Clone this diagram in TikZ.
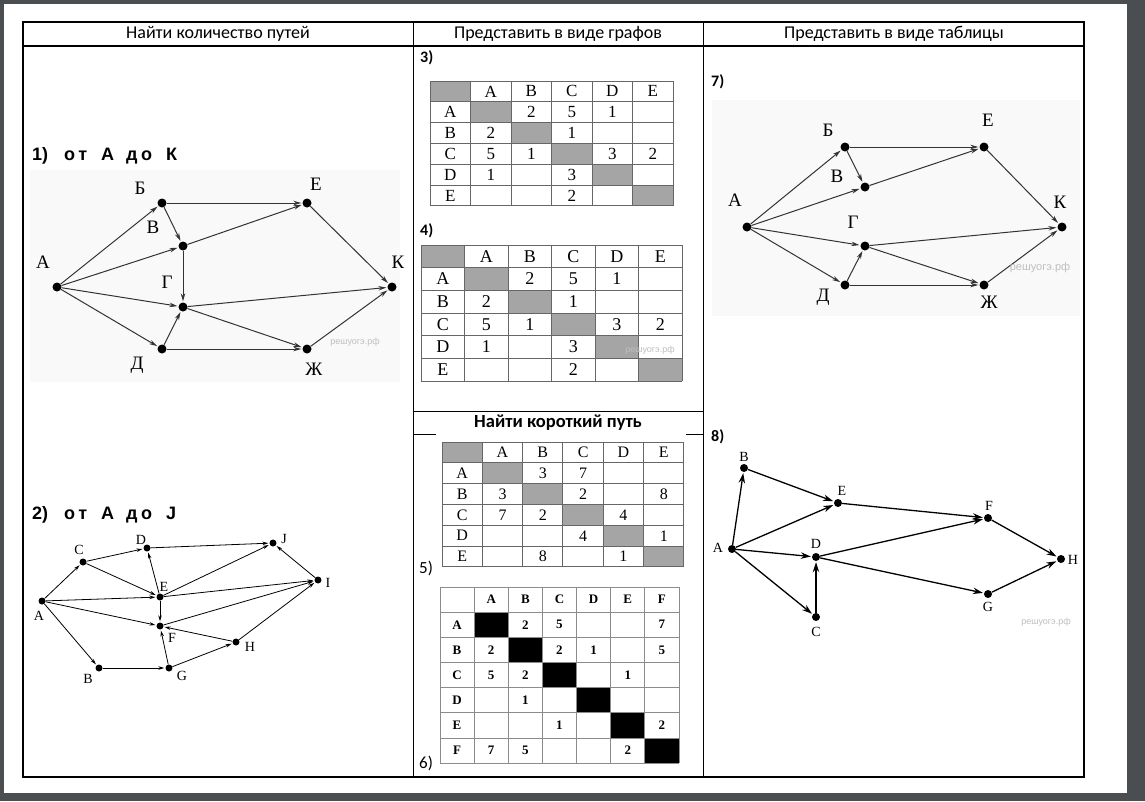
\documentclass[tikz,border=0pt]{standalone}
\usepackage{fontspec}
\setmainfont{Carlito}
\newfontfamily\tabfont{Liberation Serif}
\newfontfamily\taskfont{Liberation Sans}[LetterSpace=20]
\newfontfamily\markfont{Liberation Sans}
\usetikzlibrary{arrows.meta}
\definecolor{bgdark}{RGB}{75,78,81}
\definecolor{cellgray}{RGB}{165,165,165}

% weight table: name, x0, y0, cell width, cell height, size, letters, entries col/row/value
\newcommand{\wtable}[8]{%
  \begin{scope}[shift={(#2,#3)},x=#4pt,y=-#5pt]
    \fill[corner] (0,0) rectangle (1,1);
    \foreach \lt [count=\k] in {#7} {
      \fill[diag] (\k,\k) rectangle ++(1,1);
      \node[cell] (#1-c\k) at (\k+.5,.5) {\lt};
      \node[cell] (#1-r\k) at (.5,\k+.5) {\lt};
    }
    \foreach \k in {0,...,#6} {
      \draw[tabline] (\k,0) -- (\k,#6);
      \draw[tabline] (0,\k) -- (#6,\k);
    }
    \foreach \col/\row/\val in {#8}
      \node[cell] (#1-\col-\row) at (\col+.5,\row+.5) {\val};
  \end{scope}}

\tikzset{
  cell/.style={font=\tabfont\fontsize{17}{17}\selectfont,inner sep=0pt},
  diag/.style={fill=cellgray},
  corner/.style={fill=cellgray},
  tabline/.style={draw=black!60,line width=1pt}
}

\begin{document}
\begin{tikzpicture}[x=1pt,y=-1pt,
  vtx/.style={circle,fill=black,inner sep=0pt,minimum size=9pt},
  svtx/.style={circle,fill=black,inner sep=0pt,minimum size=7pt},
  lab/.style={font=\tabfont\fontsize{19}{19}\selectfont,inner sep=0pt},
  slab/.style={font=\tabfont\fontsize{14}{14}\selectfont,inner sep=0pt},
  garc/.style={draw=black!80,line width=1pt,-{Stealth[length=8pt,width=4.5pt]},shorten >=1pt},
  sarc/.style={draw=black,line width=.8pt,-{Stealth[length=6pt,width=3.5pt]},shorten >=1pt},
  barc/.style={draw=black,line width=1.3pt,-{Stealth[length=10pt,width=6.5pt]},shorten >=1pt},
  head/.style={font=\fontsize{18}{18}\selectfont,inner sep=0pt},
  num/.style={font=\bfseries\fontsize{16}{16}\selectfont,inner sep=0pt,anchor=west},
  task/.style={font=\taskfont\bfseries\fontsize{18}{18}\selectfont,inner sep=0pt,anchor=west},
  wmark/.style={font=\markfont\fontsize{9}{9}\selectfont,text=black!25,inner sep=0pt}]

% page
\fill[bgdark] (0,0) rectangle (1145,801);
\fill[white] (4,4) rectangle (1127,793);

% frame of the table
\draw[line width=1.3pt] (23,22) rectangle (1084,777);
\draw[line width=1.3pt] (23,46) -- (1084,46);
\draw[line width=1pt] (413,22) -- (413,777);
\draw[line width=1pt] (703,22) -- (703,777);
\draw[line width=1pt] (413,411) -- (703,411);
\draw[line width=1pt] (413,434) -- (436,434);
\draw[line width=1pt] (686,434) -- (703,434);

\node[head] (h1) at (218,34) {Найти количество путей};
\node[head] (h2) at (558,34) {Представить в виде графов};
\node[head] (h3) at (894,34) {Представить в виде таблицы};
\node[head,font=\bfseries\fontsize{18.5}{18.5}\selectfont] (h4) at (558,423) {Найти короткий путь};

% 1) graph
\node[task] (task1) at (32,156) {{\markfont 1)}\hspace{16pt}от\hspace{14pt}А\hspace{12pt}до\hspace{14pt}К};
\fill[gray!5] (30,170) rectangle (400,382);
\node[vtx] (A1) at (57,287) {};
\node[vtx] (B1) at (162,203) {};
\node[vtx] (V1) at (183,246) {};
\node[vtx] (G1) at (183,307) {};
\node[vtx] (D1) at (162,349) {};
\node[vtx] (E1) at (307,203) {};
\node[vtx] (K1) at (392,287) {};
\node[vtx] (Zh1) at (307,349) {};
\node[lab] (A1l) at (43,262) {А};
\node[lab] (B1l) at (140,188) {Б};
\node[lab] (V1l) at (153,227) {В};
\node[lab] (G1l) at (167,282) {Г};
\node[lab] (D1l) at (137,365) {Д};
\node[lab] (E1l) at (316,184) {Е};
\node[lab] (K1l) at (398,262) {К};
\node[lab] (Zh1l) at (314,369) {Ж};
\foreach \s/\t in {A1/B1,A1/V1,A1/G1,A1/D1,B1/E1,B1/V1,V1/E1,V1/G1,D1/G1,D1/Zh1,G1/K1,G1/Zh1,E1/K1,Zh1/K1}
  \draw[garc] (\s) -- (\t);
\node[wmark] (wm1) at (355,342) {решуогэ.рф};

% 2) graph
\node[task] (task2) at (32,515) {{\markfont 2)}\hspace{16pt}от\hspace{14pt}A\hspace{12pt}до\hspace{14pt}J};
\node[svtx] (A2) at (42,601) {};
\node[svtx] (C2) at (83,562) {};
\node[svtx] (D2) at (147,548) {};
\node[svtx] (J2) at (273,543) {};
\node[svtx] (I2) at (318,580) {};
\node[svtx] (E2) at (160,597) {};
\node[svtx] (F2) at (160,626) {};
\node[svtx] (H2) at (236,642) {};
\node[svtx] (B2) at (99,668) {};
\node[svtx] (G2) at (169,668) {};
\node[slab] (A2l) at (39,616) {A};
\node[slab] (C2l) at (79,550) {C};
\node[slab] (D2l) at (141,540) {D};
\node[slab] (J2l) at (284,539) {J};
\node[slab] (I2l) at (328,583) {I};
\node[slab] (E2l) at (164,587) {E};
\node[slab] (F2l) at (172,638) {F};
\node[slab] (H2l) at (250,647) {H};
\node[slab] (B2l) at (88,679) {B};
\node[slab] (G2l) at (182,676) {G};
\foreach \s/\t in {A2/C2,A2/E2,A2/F2,A2/B2,C2/D2,C2/E2,D2/J2,E2/D2,E2/J2,E2/I2,E2/F2,I2/J2,F2/I2,H2/F2,H2/I2,B2/G2,G2/F2,G2/H2}
  \draw[sarc] (\s) -- (\t);

% 3) and 4)
\node[num] (n3) at (420,58) {3)};
\wtable{t3}{430}{81}{40.5}{20.83}{6}{A,B,C,D,E}{2/1/2,3/1/5,4/1/1,1/2/2,3/2/1,1/3/5,2/3/1,4/3/3,5/3/2,1/4/1,3/4/3,3/5/2}
\node[num] (n4) at (420,231) {4)};
\begin{scope}[cell/.style={font=\tabfont\fontsize{18}{18}\selectfont,inner sep=0pt}]
\wtable{t4}{421}{245}{43.5}{22.67}{6}{A,B,C,D,E}{2/1/2,3/1/5,4/1/1,1/2/2,3/2/1,1/3/5,2/3/1,4/3/3,5/3/2,1/4/1,3/4/3,3/5/2}
\end{scope}
\node[wmark] (wm4) at (650,350) {решуогэ.рф};

% 5) and 6)
\begin{scope}[cell/.style={font=\tabfont\fontsize{16}{16}\selectfont,inner sep=0pt}]
\wtable{t5}{442}{442}{40.33}{20.83}{6}{A,B,C,D,E}{2/1/3,3/1/7,1/2/3,3/2/2,5/2/8,1/3/7,2/3/2,4/3/4,3/4/4,5/4/1,2/5/8,4/5/1}
\end{scope}
\node[num,font=\fontsize{17}{17}\selectfont] (n5) at (419,568) {5)};
\begin{scope}[cell/.style={font=\tabfont\bfseries\fontsize{13}{13}\selectfont,inner sep=0pt},
  diag/.style={fill=black}, corner/.style={fill=white}, tabline/.style={draw=black!45,line width=.7pt}]
\wtable{t6}{440}{587}{34.14}{25.14}{7}{A,B,C,D,E,F}{2/1/2,3/1/5,6/1/7,1/2/2,3/2/2,4/2/1,6/2/5,1/3/5,2/3/2,5/3/1,2/4/1,3/5/1,6/5/2,1/6/7,2/6/5,5/6/2}
\end{scope}
\node[num,font=\fontsize{17}{17}\selectfont] (n6) at (419,763) {6)};

% 7) graph
\node[num] (n7) at (711,82) {7)};
\fill[gray!5] (712,100) rectangle (1080,316);
\node[vtx] (A7) at (747,227) {};
\node[vtx] (B7) at (845,147) {};
\node[vtx] (V7) at (865,187) {};
\node[vtx] (E7) at (984,147) {};
\node[vtx] (K7) at (1062,227) {};
\node[vtx] (G7) at (865,246) {};
\node[vtx] (D7) at (845,285) {};
\node[vtx] (Zh7) at (984,285) {};
\node[lab] (A7l) at (735,200) {А};
\node[lab] (B7l) at (828,130) {Б};
\node[lab] (V7l) at (837,176) {В};
\node[lab] (E7l) at (988,120) {Е};
\node[lab] (K7l) at (1060,202) {К};
\node[lab] (G7l) at (853,222) {Г};
\node[lab] (D7l) at (823,297) {Д};
\node[lab] (Zh7l) at (989,302) {Ж};
\foreach \s/\t in {A7/B7,A7/V7,A7/G7,A7/D7,B7/E7,B7/V7,V7/E7,G7/K7,G7/Zh7,D7/G7,D7/Zh7,E7/K7,Zh7/K7}
  \draw[garc] (\s) -- (\t);
\node[wmark,font=\markfont\fontsize{11}{11}\selectfont] (wm7) at (1040,268) {решуогэ.рф};

% 8) graph
\node[num] (n8) at (711,437) {8)};
\node[svtx,minimum size=8pt] (A8) at (732,549) {};
\node[svtx,minimum size=8pt] (B8) at (744,468) {};
\node[svtx,minimum size=8pt] (E8) at (838,503) {};
\node[svtx,minimum size=8pt] (F8) at (988,518) {};
\node[svtx,minimum size=8pt] (H8) at (1061,559) {};
\node[svtx,minimum size=8pt] (D8) at (816,557) {};
\node[svtx,minimum size=8pt] (G8) at (988,594) {};
\node[svtx,minimum size=8pt] (C8) at (816,617) {};
\node[slab] (A8l) at (718,548) {A};
\node[slab] (B8l) at (744,457) {B};
\node[slab] (E8l) at (842,491) {E};
\node[slab] (F8l) at (989,506) {F};
\node[slab] (H8l) at (1073,560) {H};
\node[slab] (D8l) at (816,544) {D};
\node[slab] (G8l) at (988,607) {G};
\node[slab] (C8l) at (816,632) {C};
\foreach \s/\t in {A8/B8,A8/E8,A8/D8,A8/C8,B8/E8,E8/F8,D8/F8,D8/G8,C8/D8,F8/H8,G8/H8}
  \draw[barc] (\s) -- (\t);
\node[wmark] (wm8) at (1046,622) {решуогэ.рф};

\end{tikzpicture}
\end{document}
